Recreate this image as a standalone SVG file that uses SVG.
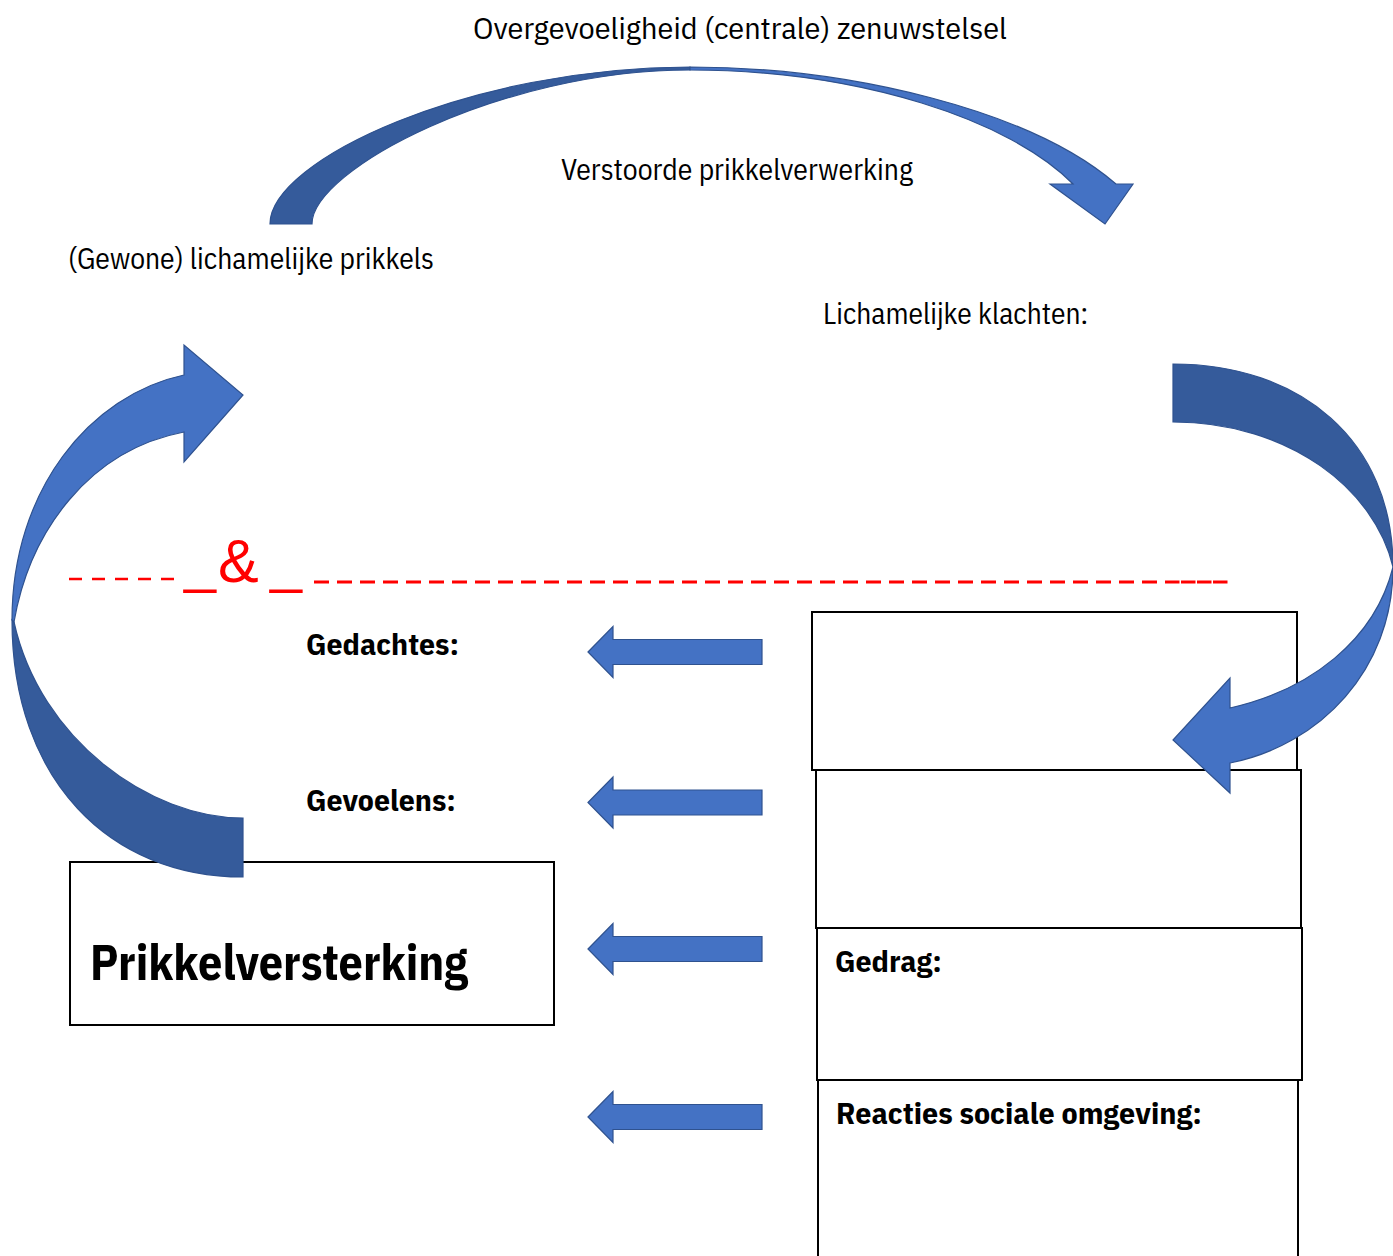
<svg xmlns="http://www.w3.org/2000/svg" width="1393" height="1256" viewBox="0 0 1393 1256">
<style>
.lbl{font-family:"IBM Plex Sans Condensed",Roboto,"Liberation Sans",sans-serif;font-size:30px;fill:#000}
.bld{font-family:"IBM Plex Sans Condensed",Roboto,"Liberation Sans",sans-serif;font-size:29px;font-weight:bold;fill:#000}
.box{fill:#fff;stroke:#000;stroke-width:2}
.light{fill:#4472C4;stroke:#2F528F;stroke-width:1.2}
.dark{fill:#355B9B;stroke:#2F528F;stroke-width:1.2}
.dash{stroke:#FF0000;fill:none}
.red{font-family:"Liberation Sans",Arial,sans-serif;fill:#FF0000}
</style>
<rect width="1393" height="1256" fill="#fff"/>

<g id="title-top">
<text class="lbl" x="473" y="39" textLength="534" lengthAdjust="spacingAndGlyphs">Overgevoeligheid (centrale) zenuwstelsel</text>
</g>
<g id="label-verstoorde">
<text class="lbl" x="561" y="180" textLength="352" lengthAdjust="spacingAndGlyphs">Verstoorde prikkelverwerking</text>
</g>
<g id="label-prikkels">
<text class="lbl" x="68" y="269" textLength="366" lengthAdjust="spacingAndGlyphs">(Gewone) lichamelijke prikkels</text>
</g>
<g id="label-klachten">
<text class="lbl" x="823" y="324" textLength="265" lengthAdjust="spacingAndGlyphs">Lichamelijke klachten:</text>
</g>

<g id="separator">
<line class="dash" x1="69" y1="579" x2="176" y2="579" stroke-width="2.6" stroke-dasharray="13 10"/>
<text class="red" x="184" y="582" font-size="54" textLength="32" lengthAdjust="spacingAndGlyphs">_</text>
<text class="red" x="218" y="582" font-size="61">&amp;</text>
<text class="red" x="270" y="582" font-size="54" textLength="32" lengthAdjust="spacingAndGlyphs">_</text>
<line class="dash" x1="314" y1="582" x2="1158" y2="582" stroke-width="3" stroke-dasharray="15 8"/>
<line class="dash" x1="1165" y1="582" x2="1229" y2="582" stroke-width="3" stroke-dasharray="14.5 1.5"/>
</g>

<g id="label-gedachtes">
<text class="bld" x="306" y="655" textLength="153" lengthAdjust="spacingAndGlyphs">Gedachtes:</text>
</g>
<g id="label-gevoelens">
<text class="bld" x="306" y="811" textLength="150" lengthAdjust="spacingAndGlyphs">Gevoelens:</text>
</g>

<g id="box-prikkelversterking">
<rect class="box" x="70" y="862" width="484" height="163"/>
<text x="90" y="980" font-family="'IBM Plex Sans Condensed',Roboto,'Liberation Sans',sans-serif" font-size="50" font-weight="bold" textLength="378" lengthAdjust="spacingAndGlyphs">Prikkelversterking</text>
</g>

<g id="box-1">
<rect class="box" x="812" y="612" width="485" height="158"/>
</g>
<g id="box-2">
<rect class="box" x="816" y="770" width="485" height="158"/>
</g>
<g id="box-gedrag">
<rect class="box" x="817" y="928" width="485" height="152"/>
<text class="bld" x="835" y="972" textLength="107" lengthAdjust="spacingAndGlyphs">Gedrag:</text>
</g>
<g id="box-reacties">
<rect class="box" x="818" y="1080" width="480" height="190"/>
<text class="bld" x="836" y="1124" textLength="366" lengthAdjust="spacingAndGlyphs">Reacties sociale omgeving:</text>
</g>

<g id="connectors">
<path class="dark" d="M270,224 C270,160 470,67 690,67 L690,70 C500,70 312,170 312,224 Z"/>
<path class="light" d="M690,67 C850,67 1030,110 1116,184 L1133,184 L1105,224 L1050,184 L1073,184 C1010,120 860,70 690,70 Z"/>
<path class="dark" d="M12,620 C12,780 110,877 243,877 L243,818 C150,818 40,740 14,622 Z"/>
<path class="light" d="M12,620 C12,490 90,395 184,375 L184,345 L243,395 L184,462 L184,432 C90,450 30,530 14,622 Z"/>
<path class="dark" d="M1173,364 C1300,364 1393,440 1393,567 C1375,490 1290,422 1173,422 Z"/>
<path class="light" d="M1393,567 C1393,670 1320,745 1230,763 L1230,793 L1173,740 L1230,678 L1230,708 C1310,690 1375,640 1393,567 Z"/>
<path class="light" d="M588,652 L613,626.5 L613,639.5 L762,639.5 L762,664.5 L613,664.5 L613,677.5 Z"/>
<path class="light" d="M588,802.5 L613,777 L613,790 L762,790 L762,815 L613,815 L613,828 Z"/>
<path class="light" d="M588,949 L613,923.5 L613,936.5 L762,936.5 L762,961.5 L613,961.5 L613,974.5 Z"/>
<path class="light" d="M588,1117 L613,1091.5 L613,1104.5 L762,1104.5 L762,1129.5 L613,1129.5 L613,1142.5 Z"/>
</g>
</svg>
